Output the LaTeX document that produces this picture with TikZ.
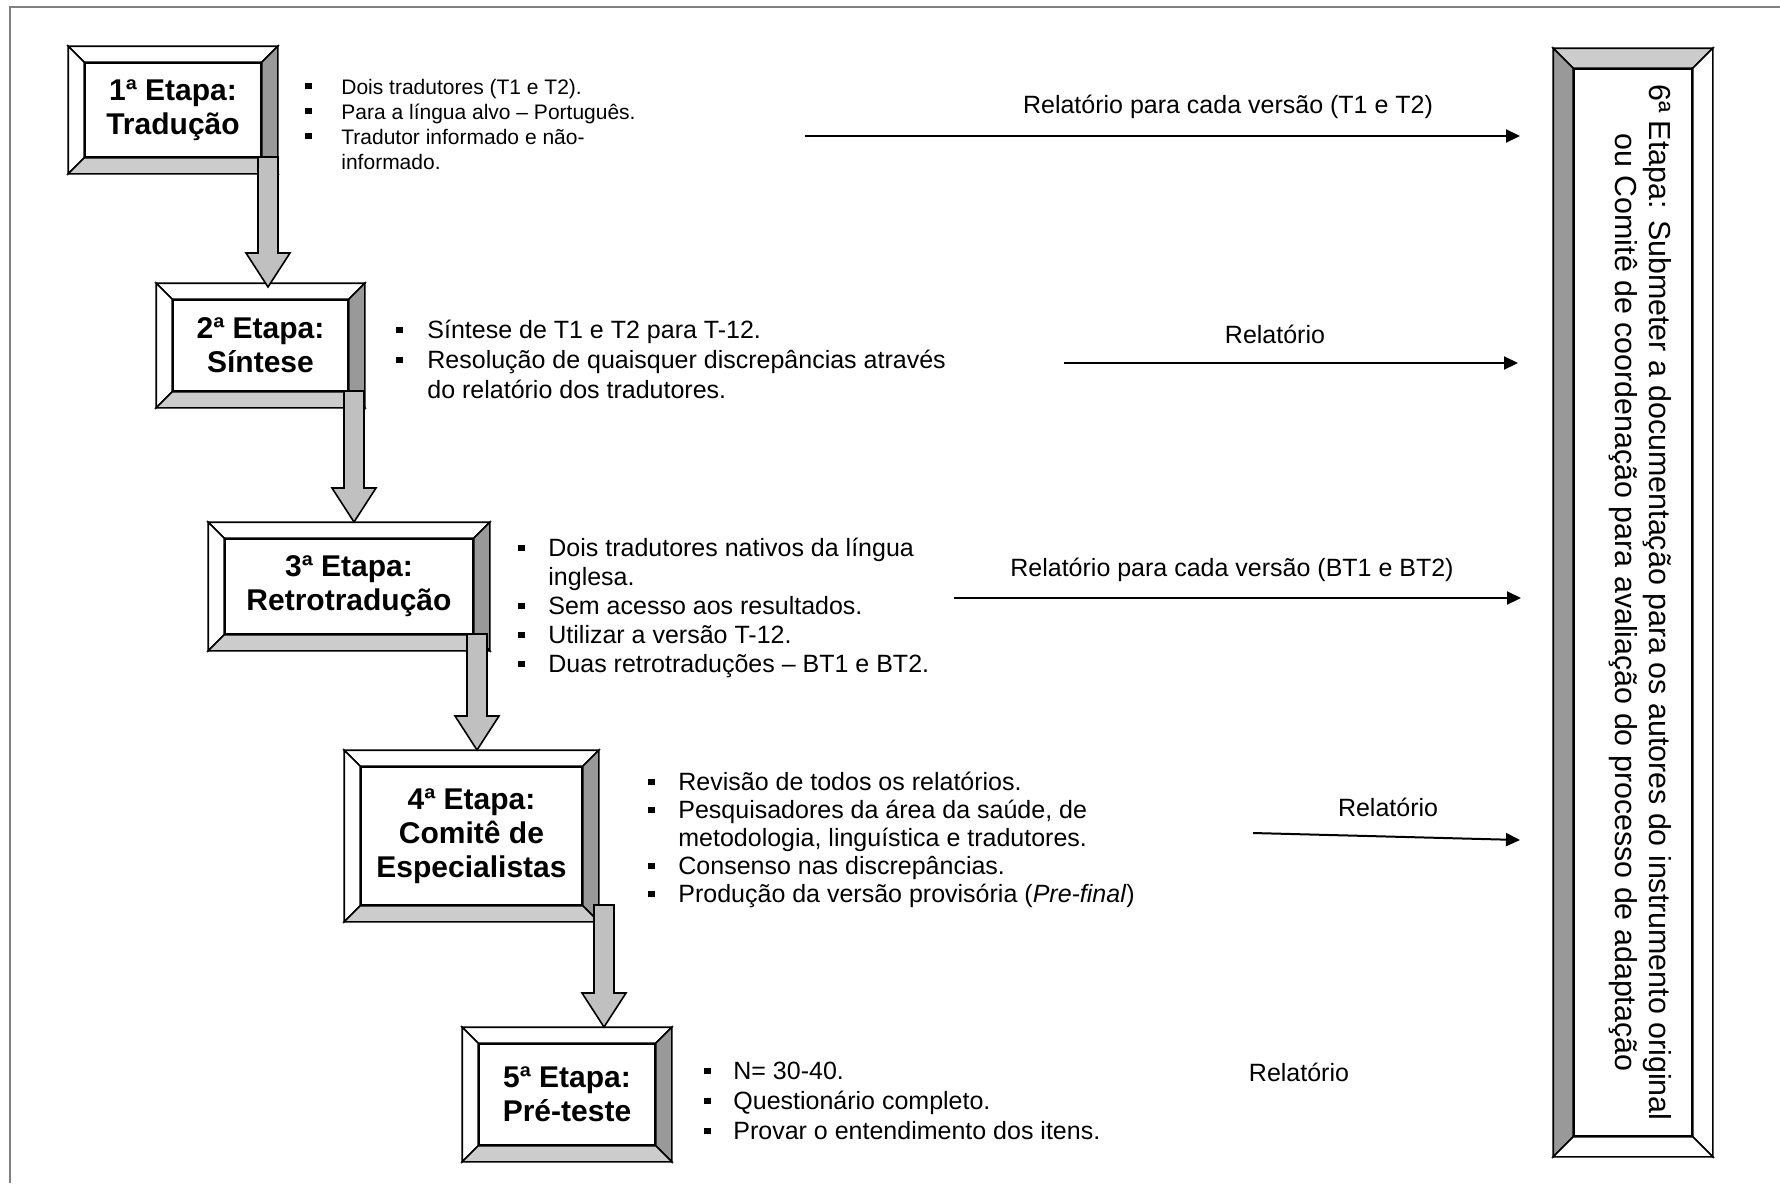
\documentclass[tikz,border=0pt]{standalone}
\usepackage{fontspec}
\setmainfont{Liberation Sans}
\usetikzlibrary{arrows.meta,calc}

\definecolor{bevdark}{HTML}{999999}
\definecolor{bevlight}{HTML}{CCCCCC}
\definecolor{shaftgray}{HTML}{C0C0C0}
\definecolor{framegray}{HTML}{808080}

\newcommand{\sq}{\rule[2.3pt]{3.3pt}{3.3pt}}

% bevel round a face node: #1 node, #2 width, fills top, left, right, bottom
\newcommand{\bevel}[6]{%
  \path (#1.north west) ++(-#2,-#2) coordinate (#1-a)
        (#1.north east) ++(#2,-#2) coordinate (#1-b)
        (#1.south east) ++(#2,#2) coordinate (#1-c)
        (#1.south west) ++(-#2,#2) coordinate (#1-d);
  \filldraw[edge, fill=#3] (#1-a) -- (#1-b) -- (#1.north east) -- (#1.north west) -- cycle;
  \filldraw[edge, fill=#4] (#1-a) -- (#1.north west) -- (#1.south west) -- (#1-d) -- cycle;
  \filldraw[edge, fill=#5] (#1-b) -- (#1-c) -- (#1.south east) -- (#1.north east) -- cycle;
  \filldraw[edge, fill=#6] (#1-d) -- (#1.south west) -- (#1.south east) -- (#1-c) -- cycle;
}

% thick grey arrow from stage to stage
\newcommand{\stagearrow}[2]{%
  \filldraw[edge, fill=shaftgray] ($(#1)+(-10,0)$) -- ($(#2)+(-10,-34)$) -- ($(#2)+(-22,-34)$)
    -- (#2) -- ($(#2)+(22,-34)$) -- ($(#2)+(10,-34)$) -- ($(#1)+(10,0)$) -- cycle;
}

\tikzset{
  edge/.style={line width=0.8pt, line join=miter},
  face/.style={draw, edge, fill=white, inner sep=0pt, align=center,
    font=\bfseries\fontsize{15pt}{17pt}\selectfont},
  list/.style={anchor=base west, inner sep=0pt},
  lbl/.style={inner sep=0pt, font=\fontsize{12.5pt}{14pt}\selectfont},
  report/.style={-{Triangle[length=7pt,width=6.5pt]}, line width=1pt},
}

\begin{document}
\begin{tikzpicture}[x=0.5pt, y=-0.5pt]
  \useasboundingbox (0,0) rectangle (1780,1183);
  \draw[framegray, line width=0.6pt] (10,1183) -- (10,7) -- (1780,7);

  % stages
  \node[face, minimum width=88pt, minimum height=47pt] (s1) at (173,110) {1ª Etapa:\\Tradução};
  \node[face, minimum width=87.5pt, minimum height=45.5pt] (s2) at (260.5,345.5) {2ª Etapa:\\Síntese};
  \node[face, minimum width=124pt, minimum height=47.5pt] (s3) at (349,586.5) {3ª Etapa:\\Retrotradução};
  \node[face, minimum width=110.5pt, minimum height=69pt] (s4) at (471.5,836) {4ª Etapa:\\Comitê de\\Especialistas};
  \node[face, minimum width=88pt, minimum height=50.5pt] (s5) at (567,1094.5) {5ª Etapa:\\Pré-teste};
  \node[draw, edge, fill=white, inner sep=0pt, minimum width=59pt, minimum height=533.5pt] (s6) at (1633,602.5) {};
  \foreach \s in {s1,s2,s3,s4,s5}
    \bevel{\s}{16}{white}{white}{bevdark}{bevlight};
  \bevel{s6}{20}{bevlight}{bevdark}{white}{white};
  \node[rotate=-90, anchor=north, inner sep=0pt, align=center,
    font=\fontsize{15.2pt}{17pt}\selectfont] (s6txt) at (1672,602.5)
    {6ª Etapa: Submeter a documentação para os autores do instrumento original\\
     ou Comitê de coordenação para avaliação do processo de adaptação};

  % arrows between stages
  \coordinate (d1) at (268,157);  \coordinate (t1) at (268,287);
  \coordinate (d2) at (354,391);  \coordinate (t2) at (354,522);
  \coordinate (d3) at (477,634);  \coordinate (t3) at (477,750);
  \coordinate (d4) at (604,905);  \coordinate (t4) at (604,1027);
  \stagearrow{d1}{t1}
  \stagearrow{d2}{t2}
  \stagearrow{d3}{t3}
  \stagearrow{d4}{t4}

  % bullet lists
  \node[list, font=\fontsize{10.5pt}{12.5pt}\selectfont] (l1) at (305,94) {%
    \begin{tabular}[t]{@{}p{18pt}@{}l@{}}
      \sq & \smash{Dois tradutores (T1 e T2).}\\
      \sq & \smash{Para a língua alvo – Português.}\\
      \sq & \smash{Tradutor informado e não-}\\
          & \smash{informado.}
    \end{tabular}};
  \node[list, font=\fontsize{12.5pt}{15pt}\selectfont] (l2) at (396,338) {%
    \begin{tabular}[t]{@{}p{15.5pt}@{}l@{}}
      \sq & Síntese de T1 e T2 para T-12.\\
      \sq & Resolução de quaisquer discrepâncias através\\
          & do relatório dos tradutores.
    \end{tabular}};
  \node[list, font=\fontsize{12.5pt}{14.5pt}\selectfont] (l3) at (518,556) {%
    \begin{tabular}[t]{@{}p{15pt}@{}l@{}}
      \sq & Dois tradutores nativos da língua\\
          & inglesa.\\
      \sq & Sem acesso aos resultados.\\
      \sq & Utilizar a versão T-12.\\
      \sq & Duas retrotraduções – BT1 e BT2.
    \end{tabular}};
  \node[list, font=\fontsize{12.5pt}{14pt}\selectfont] (l4) at (648,790) {%
    \begin{tabular}[t]{@{}p{15pt}@{}l@{}}
      \sq & Revisão de todos os relatórios.\\
      \sq & Pesquisadores da área da saúde, de\\
          & metodologia, linguística e tradutores.\\
      \sq & Consenso nas discrepâncias.\\
      \sq & Produção da versão provisória (\textit{Pre-final})
    \end{tabular}};
  \node[list, font=\fontsize{12.5pt}{15pt}\selectfont] (l5) at (704,1079) {%
    \begin{tabular}[t]{@{}p{14.5pt}@{}l@{}}
      \sq & N= 30-40.\\
      \sq & Questionário completo.\\
      \sq & Provar o entendimento dos itens.
    \end{tabular}};

  % reports to stage 6
  \coordinate (r1) at (805,136);   \coordinate (e1) at (1520,136);
  \coordinate (r2) at (1064,363);  \coordinate (e2) at (1518,363);
  \coordinate (r3) at (954,598);   \coordinate (e3) at (1521,598);
  \coordinate (r4) at (1253,833);  \coordinate (e4) at (1520,840);
  \draw[report] (r1) -- (e1);
  \draw[report] (r2) -- (e2);
  \draw[report] (r3) -- (e3);
  \draw[report] (r4) -- (e4);
  \node[lbl] (m1) at (1228,107) {Relatório para cada versão (T1 e T2)};
  \node[lbl] (m2) at (1275,334) {Relatório};
  \node[lbl] (m3) at (1232,570) {Relatório para cada versão (BT1 e BT2)};
  \node[lbl] (m4) at (1388,807) {Relatório};
  \node[lbl] (m5) at (1299,1072) {Relatório};
\end{tikzpicture}
\end{document}
